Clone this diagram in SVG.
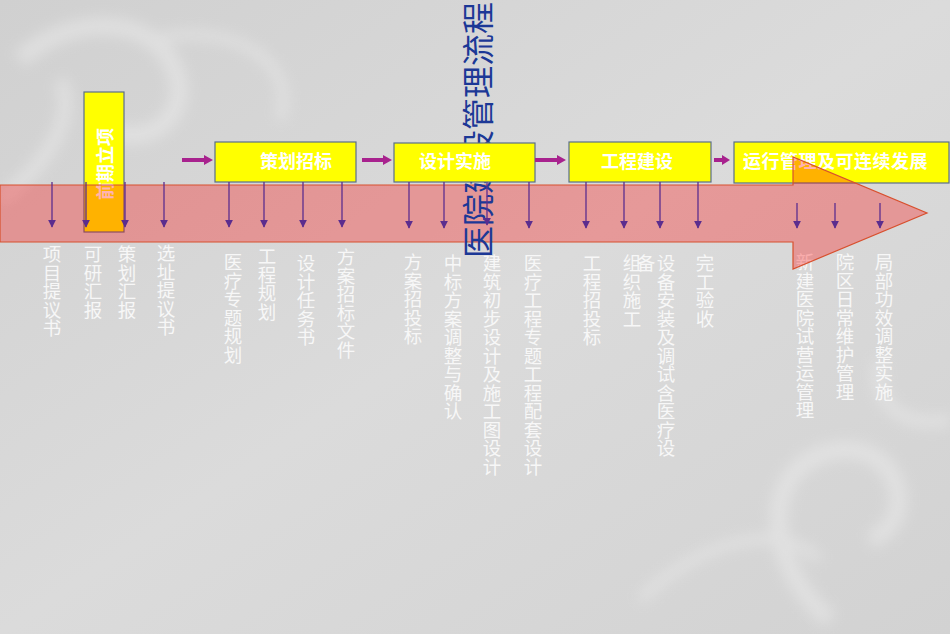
<svg xmlns="http://www.w3.org/2000/svg" width="950" height="634" viewBox="0 0 950 634">
<defs>
<linearGradient id="bg" x1="0" y1="0" x2="1" y2="1">
<stop offset="0" stop-color="#d0d0d0"/>
<stop offset="0.5" stop-color="#dbdbdb"/>
<stop offset="1" stop-color="#d2d2d2"/>
</linearGradient>
<filter id="soft" x="-20%" y="-20%" width="140%" height="140%"><feGaussianBlur stdDeviation="7"/></filter>
<marker id="dn" viewBox="0 0 10 10" refX="9" refY="5" markerWidth="8" markerHeight="8" markerUnits="userSpaceOnUse" orient="auto">
<path d="M0,0 L10,5 L0,10 Z" fill="#5b2d8e"/>
</marker>
<style>
.lbl{font-family:"Noto Sans CJK SC","Noto Sans",sans-serif;font-size:18.5px;fill:#f7f7f7;writing-mode:vertical-rl;}
.box{fill:#ffff00;stroke:#5a6f8a;stroke-width:1.2;}
.bt{font-family:"Noto Sans CJK SC","Noto Sans",sans-serif;font-size:18px;font-weight:bold;fill:#ffffff;dominant-baseline:central;}
.da{stroke:#5b2d8e;stroke-width:1.3;fill:none;marker-end:url(#dn);}
.conn{fill:#a8228e;}
</style>
</defs>
<rect width="950" height="634" fill="url(#bg)"/>
<g filter="url(#soft)" fill="none" stroke="#efefef" opacity="0.45">
<path d="M20,60 C60,20 140,10 170,60 C200,110 150,150 110,130" stroke-width="18"/>
<path d="M0,200 C40,170 80,120 60,80" stroke-width="14"/>
<path d="M150,40 C230,20 300,60 280,120" stroke-width="10"/>
<path d="M830,620 C760,560 760,460 840,450 C900,445 920,520 870,540" stroke-width="18"/>
<path d="M950,420 C900,430 870,400 880,360" stroke-width="12"/>
<path d="M640,600 C700,540 780,520 820,560" stroke-width="10"/>
</g>
<g id="labels">
<text class="lbl" x="52" y="245">项目提议书</text>
<text class="lbl" x="93" y="245">可研汇报</text>
<text class="lbl" x="127" y="245">策划汇报</text>
<text class="lbl" x="166" y="244">选址提议书</text>
<text class="lbl" x="233" y="253">医疗专题规划</text>
<text class="lbl" x="267" y="247">工程规划</text>
<text class="lbl" x="306" y="254">设计任务书</text>
<text class="lbl" x="346" y="248">方案招标文件</text>
<text class="lbl" x="413" y="253">方案招投标</text>
<text class="lbl" x="453" y="254">中标方案调整与确认</text>
<text class="lbl" x="492" y="254">建筑初步设计及施工图设计</text>
<text class="lbl" x="533" y="254">医疗工程专题工程配套设计</text>
<text class="lbl" x="592" y="254">工程招投标</text>
<text class="lbl" x="632" y="254">组织施工</text>
<text class="lbl" x="646" y="254">备</text>
<text class="lbl" x="666" y="254">设备安装及调试含医疗设</text>
<text class="lbl" x="705" y="254">完工验收</text>
<text class="lbl" x="805" y="253">新建医院试营运管理</text>
<text class="lbl" x="845" y="253">院区日常维护管理</text>
<text class="lbl" x="884" y="253">局部功效调整实施</text>
</g>
<g id="phase1">
<rect class="box" x="84" y="92" width="40" height="140"/>
<text class="bt" text-anchor="middle" transform="translate(104,164) rotate(-90)">前期立项</text>
</g>
<g id="phase5">
<rect class="box" x="734" y="142" width="215" height="41"/>
<text class="bt" x="743" y="160" style="letter-spacing:0.5px">运行管理及可连续发展</text>
</g>
<g id="timeline">
<path d="M0,185 L793,185 L793,157 L927,213 L793,269 L793,242 L0,242 Z" fill="#ff0000" fill-opacity="0.3" stroke="#d8502e" stroke-width="1.2"/>
</g>
<g id="title">
<text x="476" y="258" transform="rotate(-90 476 258)" font-family="'Noto Sans CJK SC','Noto Sans',sans-serif" font-size="32" fill="#1c3896" dominant-baseline="central">医院建设管理流程</text>
</g>
<g id="phase2">
<rect class="box" x="215" y="142" width="141" height="40"/>
<text class="bt" x="296" y="160" text-anchor="middle">策划招标</text>
</g>
<g id="phase3">
<rect class="box" x="394" y="143" width="141" height="39"/>
<text class="bt" x="455" y="160" text-anchor="middle">设计实施</text>
</g>
<g id="phase4">
<rect class="box" x="569" y="142" width="142" height="40"/>
<text class="bt" x="637" y="160" text-anchor="middle">工程建设</text>
</g>
<g id="connectors">
<path class="conn" d="M182,158 L204,158 L204,155 L213,160 L204,165 L204,162 L182,162 Z"/>
<path class="conn" d="M362,158 L383,158 L383,155 L392,160 L383,165 L383,162 L362,162 Z"/>
<path class="conn" d="M535,158 L557,158 L557,155 L566,160 L557,165 L557,162 L535,162 Z"/>
<path class="conn" d="M714,158 L722,158 L722,155 L730,160 L722,165 L722,162 L714,162 Z"/>
<line class="da" x1="52" y1="182" x2="52" y2="227"/>
<line class="da" x1="86" y1="182" x2="86" y2="227"/>
<line class="da" x1="125" y1="182" x2="125" y2="227"/>
<line class="da" x1="164" y1="182" x2="164" y2="227"/>
<line class="da" x1="229" y1="182" x2="229" y2="227"/>
<line class="da" x1="264" y1="182" x2="264" y2="227"/>
<line class="da" x1="303" y1="182" x2="303" y2="227"/>
<line class="da" x1="342" y1="182" x2="342" y2="227"/>
<line class="da" x1="409" y1="182" x2="409" y2="228"/>
<line class="da" x1="444" y1="182" x2="444" y2="228"/>
<line class="da" x1="487" y1="182" x2="487" y2="225"/>
<line class="da" x1="529" y1="182" x2="529" y2="228"/>
<line class="da" x1="586" y1="182" x2="586" y2="228"/>
<line class="da" x1="624" y1="182" x2="624" y2="228"/>
<line class="da" x1="660" y1="182" x2="660" y2="228"/>
<line class="da" x1="698" y1="182" x2="698" y2="228"/>
<line class="da" x1="797" y1="203" x2="797" y2="228"/>
<line class="da" x1="835" y1="203" x2="835" y2="228"/>
<line class="da" x1="880" y1="203" x2="880" y2="228"/>
</g>
</svg>
